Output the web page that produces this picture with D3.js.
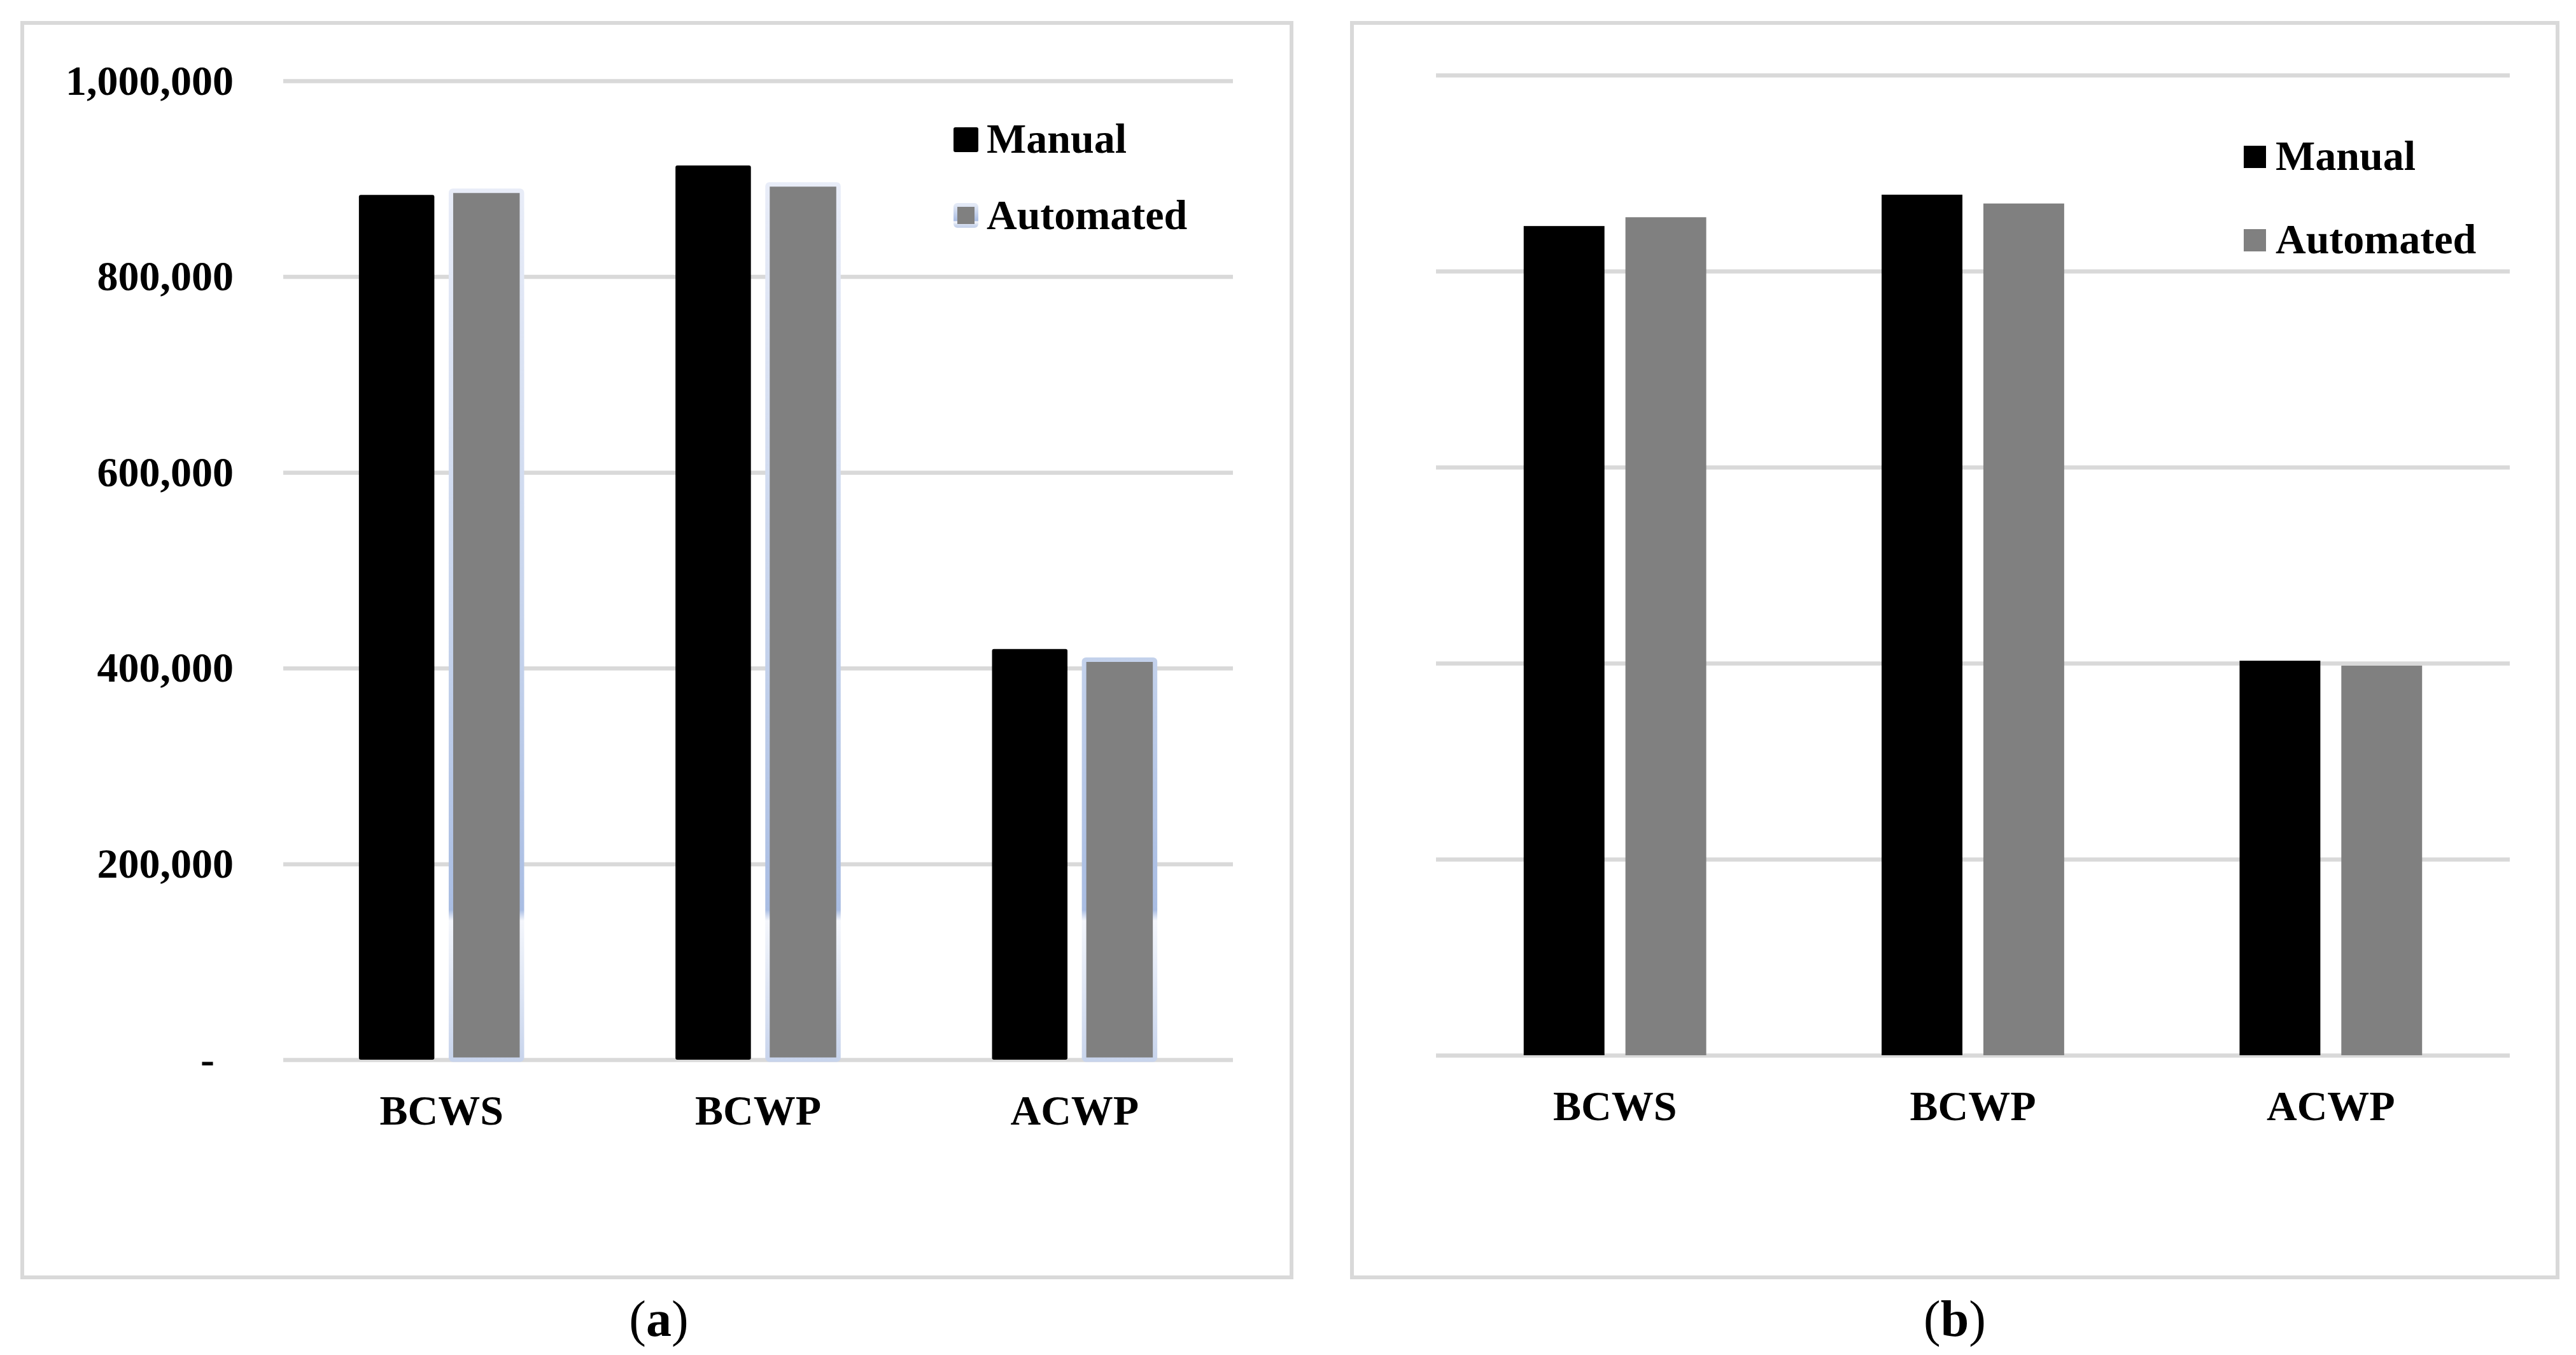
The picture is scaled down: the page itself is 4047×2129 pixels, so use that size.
<!DOCTYPE html>
<html>
<head>
<meta charset="utf-8">
<script src="https://cdn.jsdelivr.net/npm/d3@7"></script>
<style>
  body { margin: 0; background: #fff; }
  text { font-family: "Liberation Serif", "Times New Roman", serif; }
</style>
</head>
<body>
<div id="chart"></div>
<script>
// data
var categories = ["BCWS", "BCWP", "ACWP"];
var seriesNames = ["Manual", "Automated"];
var manualA = [883500, 913500, 419500];
var automatedA = [890000, 896500, 411000];
var manualB = [846000, 878000, 402500];
var automatedB = [855000, 869000, 397500];
var yTicks = [0, 200000, 400000, 600000, 800000, 1000000];
var captions = ["a", "b"];

var W = 4047, H = 2129;
var gridColor = "#d9d9d9";

var svg = d3.select("#chart")
  .append("svg")
    .attr("width", W)
    .attr("height", H);

svg.append("rect").attr("width", W).attr("height", H).attr("fill", "#fff");

// gradient stroke used on the automated bars of panel (a)
var defs = svg.append("defs");
var grad = defs.append("linearGradient")
  .attr("id", "autoStroke")
  .attr("gradientUnits", "userSpaceOnUse")
  .attr("x1", 0).attr("x2", 0)
  .attr("y1", 127).attr("y2", 1665);
[[0.10, "#e9edf8"], [0.59, "#c3d1eb"], [0.847, "#a9bde3"], [0.858, "#f4f6fc"],
 [0.875, "#eef2fa"], [1, "#c8d4ec"]].forEach(function(s) {
  grad.append("stop").attr("offset", s[0]).attr("stop-color", s[1]);
});
var legGrad = defs.append("linearGradient")
  .attr("id", "legStroke")
  .attr("x1", 0).attr("x2", 0).attr("y1", 0).attr("y2", 1);
[[0, "#e3e9f6"], [0.75, "#aabde3"], [0.8, "#f4f6fc"], [1, "#c8d4ec"]].forEach(function(s) {
  legGrad.append("stop").attr("offset", s[0]).attr("stop-color", s[1]);
});

var panels = [
  { frame: [35, 36, 1994, 1971], left: 445, right: 1937, top: 127, bottom: 1665,
    manual: manualA, automated: automatedA, inset: 0.239, innerPad: 0.16,
    yLabels: true, border: true, rx: 3,
    legend: { x: 1498, y: [200, 319], size: 39, tx: 1550, base: [240, 360] },
    capX: 1035 },
  { frame: [2124, 36, 1894, 1971], left: 2256, right: 3943, top: 118, bottom: 1658,
    manual: manualB, automated: automatedB, inset: 0.245, innerPad: 0.206,
    yLabels: false, border: false, rx: 0,
    legend: { x: 3525, y: [229, 360], size: 35, tx: 3575, base: [267, 398] },
    capX: 3071 }
];

panels.forEach(function(p, pi) {

  // outer frame
  svg.append("rect")
    .attr("x", p.frame[0]).attr("y", p.frame[1])
    .attr("width", p.frame[2]).attr("height", p.frame[3])
    .attr("fill", "none")
    .attr("stroke", gridColor)
    .attr("stroke-width", 6);

  var y = d3.scaleLinear().domain([0, 1000000]).range([p.bottom, p.top]);
  var x0 = d3.scaleBand().domain(categories).range([p.left, p.right]).padding(0);
  var bw = x0.bandwidth();
  var x1 = d3.scaleBand().domain(seriesNames)
    .range([bw * p.inset, bw * (1 - p.inset)])
    .paddingInner(p.innerPad).paddingOuter(0);

  // gridlines
  var grid = svg.append("g")
    .attr("transform", "translate(" + p.left + ",0)")
    .call(d3.axisLeft(y).tickValues(yTicks).tickSize(-(p.right - p.left)).tickFormat(""));
  grid.select(".domain").remove();
  grid.selectAll("line").attr("stroke", gridColor).attr("stroke-width", 6.5);

  // y labels (panel a only)
  if (p.yLabels) {
    var ya = svg.append("g")
      .attr("transform", "translate(" + p.left + ",0)")
      .call(d3.axisLeft(y).tickValues(yTicks).tickSize(0).tickPadding(78)
        .tickFormat(function(d) { return d === 0 ? "-" : d3.format(",")(d); }));
    ya.select(".domain").remove();
    ya.selectAll("text")
      .attr("font-size", 66)
      .attr("font-weight", "bold")
      .attr("fill", "#000")
      .attr("font-family", "Liberation Serif, serif")
      .attr("dx", function(d) { return d === 0 ? -30 : 0; });
  }

  // bars
  var rows = categories.map(function(c, i) {
    return { cat: c, values: [p.manual[i], p.automated[i]] };
  });
  var groups = svg.append("g").selectAll("g")
    .data(rows)
    .enter()
    .append("g")
      .attr("transform", function(d) { return "translate(" + x0(d.cat) + ",0)"; });

  var sw = 7;
  groups.selectAll("rect")
    .data(function(d) { return d.values.map(function(v, k) { return { s: seriesNames[k], v: v }; }); })
    .enter()
    .append("rect")
      .attr("x", function(d) { return (p.border && d.s === "Automated") ? x1(d.s) + sw / 2 : x1(d.s); })
      .attr("y", function(d) { return (p.border && d.s === "Automated") ? y(d.v) + sw / 2 : y(d.v); })
      .attr("width", function(d) { return (p.border && d.s === "Automated") ? x1.bandwidth() - sw : x1.bandwidth(); })
      .attr("height", function(d) { return (p.border && d.s === "Automated") ? y(0) - y(d.v) - sw / 2 : y(0) - y(d.v); })
      .attr("rx", p.rx)
      .attr("fill", function(d) { return d.s === "Manual" ? "#000" : "#808080"; })
      .attr("stroke", function(d) { return (p.border && d.s === "Automated") ? "url(#autoStroke)" : "none"; })
      .attr("stroke-width", sw);

  // category labels
  var xa = svg.append("g")
    .attr("transform", "translate(0," + p.bottom + ")")
    .call(d3.axisBottom(x0).tickSize(0).tickPadding(55));
  xa.select(".domain").remove();
  xa.selectAll("text")
    .attr("font-size", 66)
    .attr("font-weight", "bold")
    .attr("fill", "#000")
    .attr("font-family", "Liberation Serif, serif");

  // legend
  var L = p.legend;
  seriesNames.forEach(function(s, k) {
    var bordered = p.border && s === "Automated";
    svg.append("rect")
      .attr("x", bordered ? L.x + 3 : L.x)
      .attr("y", bordered ? L.y[k] + 3 : L.y[k])
      .attr("width", bordered ? L.size - 6 : L.size)
      .attr("height", bordered ? L.size - 6 : L.size)
      .attr("rx", p.rx)
      .attr("fill", s === "Manual" ? "#000" : "#808080")
      .attr("stroke", bordered ? "url(#legStroke)" : "none")
      .attr("stroke-width", 6);
    svg.append("text")
      .attr("x", L.tx)
      .attr("y", L.base[k])
      .attr("font-size", 66)
      .attr("font-weight", "bold")
      .text(s);
  });

  // caption
  var cap = svg.append("text")
    .attr("x", p.capX)
    .attr("y", 2099)
    .attr("text-anchor", "middle")
    .attr("font-size", 80);
  cap.append("tspan").text("(");
  cap.append("tspan").attr("font-weight", "bold").text(captions[pi]);
  cap.append("tspan").text(")");
});
</script>
</body>
</html>
